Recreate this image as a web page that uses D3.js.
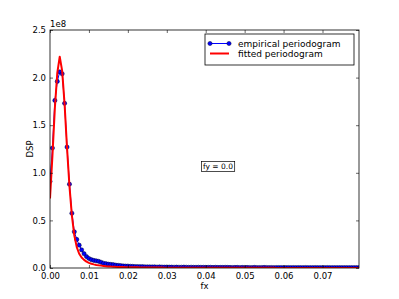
<!DOCTYPE html>
<html>
<head>
<meta charset="utf-8">
<script src="https://cdn.jsdelivr.net/npm/d3@7"></script>
<style>
body { margin: 0; background: #fff; }
text { font-family: "DejaVu Sans", sans-serif; }
</style>
</head>
<body>
<svg id="chart" width="399" height="299"></svg>
<script>
var w = 399,
	h = 299,
	m = {left: 50, right: 40, top: 30, bottom: 31},
	df = 1 / 1600;

// periodogram values, in units of 1e8
var empirical = [
	0.91, 1.26, 1.76, 1.96, 2.06, 2.04, 1.73, 1.27, 0.88, 0.575,
	0.38, 0.30, 0.24, 0.19, 0.15, 0.12, 0.10, 0.087, 0.08, 0.075,
	0.07, 0.06, 0.05, 0.045, 0.04, 0.038, 0.035, 0.03, 0.028, 0.025,
	0.022, 0.02, 0.02, 0.018, 0.017, 0.016, 0.015, 0.014, 0.014, 0.013,
	0.012, 0.012, 0.011, 0.012, 0.010, 0.011, 0.010, 0.009, 0.010, 0.009,
	0.009, 0.008, 0.009, 0.008, 0.008, 0.009, 0.008, 0.007, 0.008, 0.007,
	0.007, 0.008, 0.007, 0.007, 0.006, 0.007, 0.007, 0.006, 0.007, 0.006,
	0.006, 0.006, 0.007, 0.006, 0.006, 0.005, 0.006, 0.006, 0.005, 0.006,
	0.005, 0.006, 0.005, 0.005, 0.006, 0.005, 0.005, 0.005, 0.006, 0.005,
	0.005, 0.005, 0.004, 0.005, 0.005, 0.005, 0.004, 0.005, 0.005, 0.004,
	0.005, 0.004, 0.005, 0.004, 0.004, 0.005, 0.004, 0.004, 0.004, 0.005,
	0.004, 0.004, 0.004, 0.004, 0.005, 0.004, 0.004, 0.004, 0.004, 0.004,
	0.004, 0.004, 0.004, 0.004, 0.004, 0.004, 0.004, 0.004
];
var fitted = [
	0.73, 1.18, 1.68, 2.05, 2.22, 2.07, 1.72, 1.26, 0.86, 0.55,
	0.34, 0.22, 0.15, 0.11, 0.085, 0.067, 0.054, 0.045, 0.038, 0.032,
	0.028, 0.025, 0.022, 0.019, 0.017, 0.015, 0.014, 0.012, 0.011, 0.010,
	0.0095, 0.009, 0.0085, 0.008, 0.0075, 0.007, 0.0067, 0.0063, 0.006, 0.0057,
	0.0054, 0.0051, 0.0049, 0.0047, 0.0045, 0.0043, 0.0041, 0.0039, 0.0038, 0.0036,
	0.0035, 0.0034, 0.0033, 0.0032, 0.0031, 0.003, 0.0029, 0.0028, 0.0027, 0.0027,
	0.0026, 0.0025, 0.0025, 0.0024, 0.0023, 0.0023, 0.0022, 0.0022, 0.0021, 0.0021,
	0.002, 0.002, 0.002, 0.0019, 0.0019, 0.0018, 0.0018, 0.0018, 0.0017, 0.0017,
	0.0017, 0.0016, 0.0016, 0.0016, 0.0016, 0.0015, 0.0015, 0.0015, 0.0015, 0.0014,
	0.0014, 0.0014, 0.0014, 0.0013, 0.0013, 0.0013, 0.0013, 0.0013, 0.0012, 0.0012,
	0.0012, 0.0012, 0.0012, 0.0011, 0.0011, 0.0011, 0.0011, 0.0011, 0.0011, 0.001,
	0.001, 0.001, 0.001, 0.001, 0.001, 0.001, 0.001, 0.001, 0.0009, 0.0009,
	0.0009, 0.0009, 0.0009, 0.0009, 0.0009, 0.0009, 0.0009, 0.0009
];
var xTicks = [0, 0.01, 0.02, 0.03, 0.04, 0.05, 0.06, 0.07],
	yTicks = [0, 0.5, 1.0, 1.5, 2.0, 2.5],
	seriesNames = ['empirical periodogram', 'fitted periodogram'],
	note = 'fy = 0.0';

var fx = d3.range(empirical.length).map(function(i) { return i * df });

var svg = d3.select('#chart');

var x = d3.scaleLinear()
	.domain([0, fx[fx.length - 1]])
	.range([m.left, w - m.right]);
var y = d3.scaleLinear()
	.domain([0, 2.5])
	.range([h - m.bottom, m.top]);

svg.append('clipPath').attr('id', 'clip')
	.append('rect')
	.attr('x', m.left).attr('y', m.top)
	.attr('width', w - m.left - m.right)
	.attr('height', h - m.top - m.bottom);

var plot = svg.append('g').attr('clip-path', 'url(#clip)');

var line = d3.line()
	.x(function(d) { return x(d[0]) })
	.y(function(d) { return y(d[1]) });

var emp = fx.map(function(f, i) { return [f, empirical[i]] }),
	fit = fx.map(function(f, i) { return [f, fitted[i]] });

plot.append('path')
	.datum(emp)
	.attr('d', line)
	.attr('fill', 'none')
	.attr('stroke', '#0000ff')
	.attr('stroke-width', 1);

plot.selectAll('circle.emp')
	.data(emp)
	.enter().append('circle')
	.attr('class', 'emp')
	.attr('cx', function(d) { return x(d[0]) })
	.attr('cy', function(d) { return y(d[1]) })
	.attr('r', 2.1)
	.attr('fill', '#0000ff')
	.attr('stroke', '#000033')
	.attr('stroke-width', 0.5);

plot.append('path')
	.datum(fit)
	.attr('d', line)
	.attr('fill', 'none')
	.attr('stroke', '#ff0000')
	.attr('stroke-width', 2)
	.attr('stroke-linejoin', 'round');

// axes, matplotlib style: ticks inward on all four sides
var tl = 3;
var axB = svg.append('g')
	.attr('transform', 'translate(0,' + (h - m.bottom) + ')')
	.call(d3.axisBottom(x).tickValues(xTicks).tickSize(-tl).tickPadding(5)
		.tickFormat(d3.format('.2f')));
var axT = svg.append('g')
	.attr('transform', 'translate(0,' + m.top + ')')
	.call(d3.axisTop(x).tickValues(xTicks).tickSize(-tl).tickFormat(''));
var axL = svg.append('g')
	.attr('transform', 'translate(' + m.left + ',0)')
	.call(d3.axisLeft(y).tickValues(yTicks).tickSize(-tl).tickPadding(4)
		.tickFormat(d3.format('.1f')));
var axR = svg.append('g')
	.attr('transform', 'translate(' + (w - m.right) + ',0)')
	.call(d3.axisRight(y).tickValues(yTicks).tickSize(-tl).tickFormat(''));

[axB, axT, axL, axR].forEach(function(g) {
	g.select('.domain').remove();
	g.selectAll('line').attr('stroke', '#000').attr('stroke-width', 0.6);
	g.selectAll('text').attr('font-size', 8.5).attr('fill', '#000')
		.style('font-family', '"DejaVu Sans", sans-serif');
});

svg.append('rect')
	.attr('x', m.left).attr('y', m.top)
	.attr('width', w - m.left - m.right)
	.attr('height', h - m.top - m.bottom)
	.attr('fill', 'none')
	.attr('stroke', '#000')
	.attr('stroke-width', 0.8);

svg.append('text')
	.attr('x', m.left).attr('y', m.top - 3)
	.attr('font-size', 8.5)
	.text('1e8');

svg.append('text')
	.attr('x', (m.left + w - m.right) / 2).attr('y', 289)
	.attr('text-anchor', 'middle')
	.attr('font-size', 8.5)
	.text('fx');

svg.append('text')
	.attr('transform', 'translate(33,' + ((m.top + h - m.bottom) / 2) + ') rotate(-90)')
	.attr('text-anchor', 'middle')
	.attr('font-size', 8.5)
	.text('DSP');

// legend
var lg = svg.append('g').attr('transform', 'translate(205,34)');
lg.append('rect')
	.attr('width', 149).attr('height', 31)
	.attr('fill', '#fff')
	.attr('stroke', '#000')
	.attr('stroke-width', 0.8);
var items = lg.selectAll('g.item')
	.data(seriesNames)
	.enter().append('g')
	.attr('class', 'item')
	.attr('transform', function(d, i) { return 'translate(0,' + (9.5 + i * 10) + ')' });
items.append('line')
	.attr('x1', 5).attr('x2', 24)
	.attr('stroke', function(d, i) { return i ? '#ff0000' : '#0000ff' })
	.attr('stroke-width', function(d, i) { return i ? 2 : 1 });
items.filter(function(d, i) { return i == 0 })
	.selectAll('circle')
	.data([5, 24])
	.enter().append('circle')
	.attr('cx', function(d) { return d })
	.attr('r', 2.1)
	.attr('fill', '#0000ff')
	.attr('stroke', '#000033')
	.attr('stroke-width', 0.5);
items.append('text')
	.attr('x', 33).attr('dy', '0.35em')
	.attr('font-size', 9)
	.text(function(d) { return d });

// annotation box
var ann = svg.append('g').attr('transform', 'translate(218,166.5)');
var at = ann.append('text')
	.attr('text-anchor', 'middle')
	.attr('dy', '0.35em')
	.attr('font-size', 7.5)
	.text(note);
var bb = at.node().getBBox();
ann.insert('rect', 'text')
	.attr('x', bb.x - 1.5).attr('y', bb.y - 0.5)
	.attr('width', bb.width + 3).attr('height', bb.height + 1)
	.attr('fill', '#fff')
	.attr('stroke', '#000')
	.attr('stroke-width', 0.7);
</script>
</body>
</html>
